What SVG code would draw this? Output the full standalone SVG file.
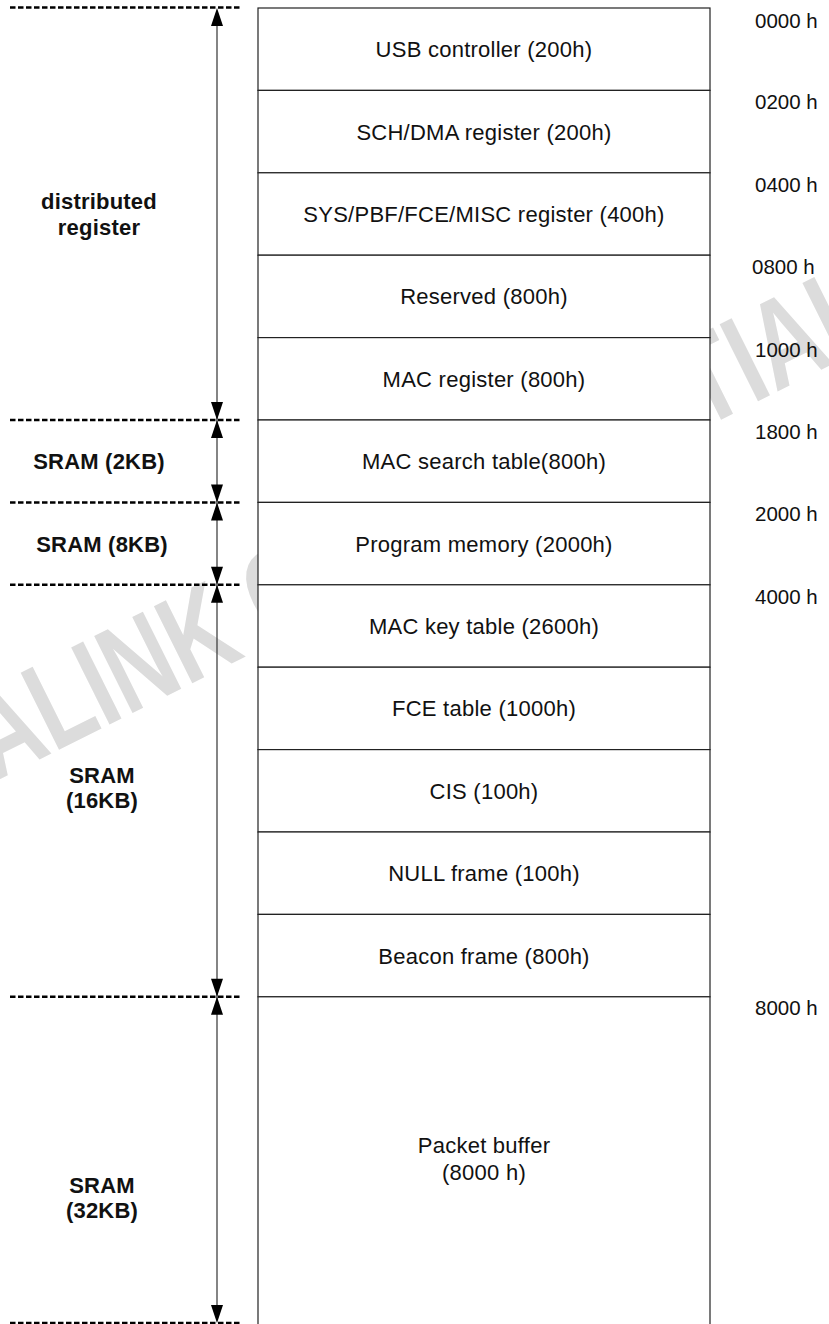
<svg xmlns="http://www.w3.org/2000/svg" width="829" height="1324" viewBox="0 0 829 1324">
<style>
.wm{font-family:"Liberation Sans",Arial,sans-serif;font-weight:bold;font-size:125px;fill:#dcdcdc}
.box{fill:#fff;stroke:#222;stroke-width:1.2}
.t{font-family:"Liberation Sans",Arial,sans-serif;font-size:22px;letter-spacing:0.25px;fill:#111;text-anchor:middle}
.b{font-family:"Liberation Sans",Arial,sans-serif;font-size:22px;font-weight:bold;letter-spacing:0.2px;fill:#111;text-anchor:middle}
.a{font-family:"Liberation Sans",Arial,sans-serif;font-size:20.5px;fill:#111}
.dash{stroke:#000;stroke-width:2.5;stroke-dasharray:5.5 2.5;fill:none}
.ln{stroke:#333;stroke-width:1.2;fill:none}
.hd{fill:#000}
</style>
<rect width="829" height="1324" fill="#fff"/>
<text class="wm" transform="translate(-66,812) rotate(-26.5) scale(0.74,1)">RALINK CONFIDENTIAL</text>

<g id="boxes">
<g id="usb"><rect class="box" x="258" y="8" width="452" height="82.4"/><text class="t" x="484" y="57">USB controller (200h)</text></g>
<g id="sch"><rect class="box" x="258" y="90.4" width="452" height="82.4"/><text class="t" x="484" y="139.6">SCH/DMA register (200h)</text></g>
<g id="sys"><rect class="box" x="258" y="172.8" width="452" height="82.4"/><text class="t" x="484" y="222">SYS/PBF/FCE/MISC register (400h)</text></g>
<g id="reserved"><rect class="box" x="258" y="255.2" width="452" height="82.4"/><text class="t" x="484" y="304.4">Reserved (800h)</text></g>
<g id="macreg"><rect class="box" x="258" y="337.6" width="452" height="82.4"/><text class="t" x="484" y="386.8">MAC register (800h)</text></g>
<g id="macsearch"><rect class="box" x="258" y="420" width="452" height="82.4"/><text class="t" x="484" y="469.2">MAC search table(800h)</text></g>
<g id="progmem"><rect class="box" x="258" y="502.4" width="452" height="82.4"/><text class="t" x="484" y="551.6">Program memory (2000h)</text></g>
<g id="mackey"><rect class="box" x="258" y="584.8" width="452" height="82.4"/><text class="t" x="484" y="634">MAC key table (2600h)</text></g>
<g id="fce"><rect class="box" x="258" y="667.2" width="452" height="82.4"/><text class="t" x="484" y="716.4">FCE table (1000h)</text></g>
<g id="cis"><rect class="box" x="258" y="749.6" width="452" height="82.4"/><text class="t" x="484" y="798.8">CIS (100h)</text></g>
<g id="null"><rect class="box" x="258" y="832" width="452" height="82.4"/><text class="t" x="484" y="881.2">NULL frame (100h)</text></g>
<g id="beacon"><rect class="box" x="258" y="914.4" width="452" height="82.4"/><text class="t" x="484" y="963.6">Beacon frame (800h)</text></g>
<g id="packet"><rect class="box" x="258" y="996.8" width="452" height="340"/><text class="t" x="484" y="1153">Packet buffer</text><text class="t" x="484" y="1180">(8000 h)</text></g>
</g>

<g id="addresses">
<text class="a" x="755" y="28">0000 h</text>
<text class="a" x="755" y="109">0200 h</text>
<text class="a" x="755" y="192">0400 h</text>
<text class="a" x="752" y="274">0800 h</text>
<text class="a" x="755" y="357">1000 h</text>
<text class="a" x="755" y="439">1800 h</text>
<text class="a" x="755" y="521">2000 h</text>
<text class="a" x="755" y="604">4000 h</text>
<text class="a" x="755" y="1015">8000 h</text>
</g>

<g id="region-labels">
<g id="lbl-dist"><text class="b" x="99" y="209">distributed</text><text class="b" x="99" y="235">register</text></g>
<g id="lbl-2kb"><text class="b" x="99" y="469">SRAM (2KB)</text></g>
<g id="lbl-8kb"><text class="b" x="102" y="552">SRAM (8KB)</text></g>
<g id="lbl-16kb"><text class="b" x="102" y="783">SRAM</text><text class="b" x="102" y="808">(16KB)</text></g>
<g id="lbl-32kb"><text class="b" x="102" y="1193">SRAM</text><text class="b" x="102" y="1218">(32KB)</text></g>
</g>

<g id="connectors">
<line class="dash" x1="10" y1="7.5" x2="240" y2="7.5"/>
<line class="dash" x1="10" y1="420" x2="240" y2="420"/>
<line class="dash" x1="10" y1="502.4" x2="240" y2="502.4"/>
<line class="dash" x1="10" y1="584.8" x2="240" y2="584.8"/>
<line class="dash" x1="10" y1="996.8" x2="240" y2="996.8"/>
<line class="dash" x1="10" y1="1323" x2="240" y2="1323"/>
<line class="ln" x1="217" y1="20" x2="217" y2="1310"/>
<polygon class="hd" points="217,8 211,26 223,26"/>
<polygon class="hd" points="217,420 211,402 223,402"/>
<polygon class="hd" points="217,420 211,438 223,438"/>
<polygon class="hd" points="217,502.4 211,484.4 223,484.4"/>
<polygon class="hd" points="217,502.4 211,520.4 223,520.4"/>
<polygon class="hd" points="217,584.8 211,566.8 223,566.8"/>
<polygon class="hd" points="217,584.8 211,602.8 223,602.8"/>
<polygon class="hd" points="217,996.8 211,978.8 223,978.8"/>
<polygon class="hd" points="217,996.8 211,1014.8 223,1014.8"/>
<polygon class="hd" points="217,1323 211,1305 223,1305"/>
</g>
</svg>
